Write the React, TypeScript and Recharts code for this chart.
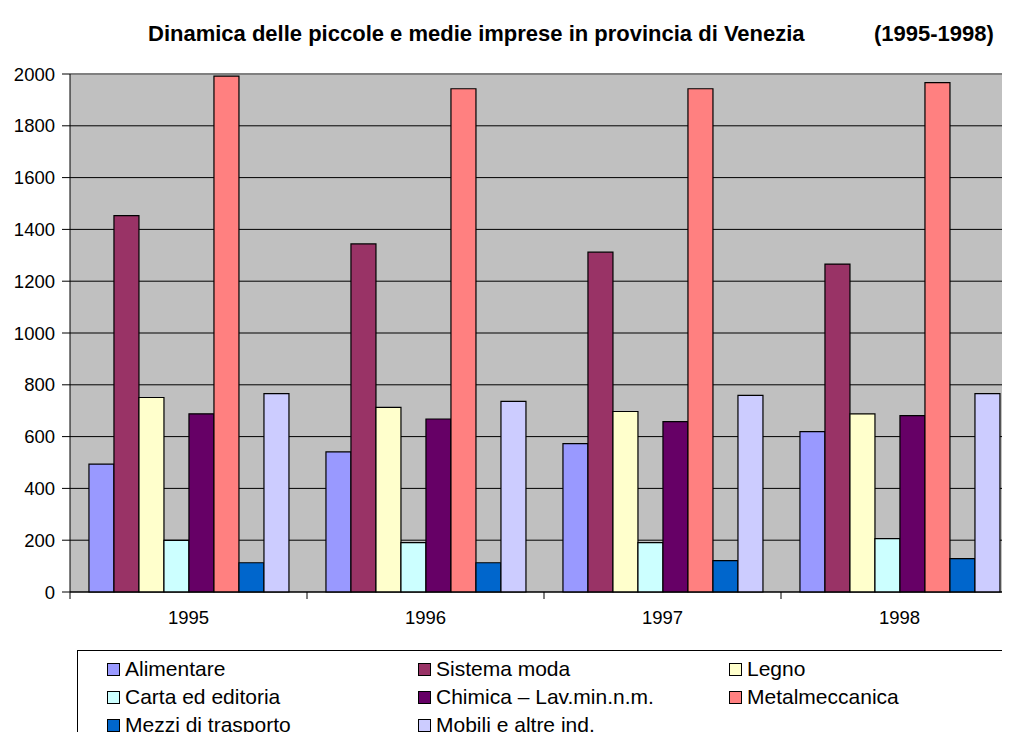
import React from "react";
import {
  BarChart,
  Bar,
  XAxis,
  YAxis,
  CartesianGrid,
  ReferenceLine,
} from "recharts";

const years = ["1995", "1996", "1997", "1998"];
const alimentare = [494, 541, 573, 619];
const sistemaModa = [1453, 1344, 1312, 1266];
const legno = [751, 713, 697, 688];
const carta = [199, 191, 191, 206];
const chimica = [688, 668, 658, 681];
const metalmeccanica = [1992, 1943, 1943, 1967];
const mezzi = [113, 113, 121, 129];
const mobili = [766, 736, 759, 766];
const yTicks = [0, 200, 400, 600, 800, 1000, 1200, 1400, 1600, 1800, 2000];

const series = [
  { key: "alimentare", name: "Alimentare", color: "#9999FF", values: alimentare },
  { key: "sistemaModa", name: "Sistema moda", color: "#993366", values: sistemaModa },
  { key: "legno", name: "Legno", color: "#FFFFCC", values: legno },
  { key: "carta", name: "Carta ed editoria", color: "#CCFFFF", values: carta },
  { key: "chimica", name: "Chimica – Lav.min.n.m.", color: "#660066", values: chimica },
  { key: "metalmeccanica", name: "Metalmeccanica", color: "#FF8080", values: metalmeccanica },
  { key: "mezzi", name: "Mezzi di trasporto", color: "#0066CC", values: mezzi },
  { key: "mobili", name: "Mobili e altre ind.", color: "#CCCCFF", values: mobili },
];

const data = years.map((year, i) => {
  const row: Record<string, string | number> = { year };
  series.forEach((s) => {
    row[s.key] = s.values[i];
  });
  return row;
});

const FONT = "'Liberation Sans', Arial, sans-serif";

// label in the middle of the band, tick mark on the left edge of the band
function YearTick(props: any) {
  const { x, y, payload } = props;
  const half = payload && payload.offset ? payload.offset : 118.5;
  return (
    <g>
      <line x1={x - half} y1={y} x2={x - half} y2={y + 7} stroke="#000" />
      <text
        x={x}
        y={y + 32}
        textAnchor="middle"
        fontSize={18.5}
        fontFamily={FONT}
        fill="#000"
      >
        {payload.value}
      </text>
    </g>
  );
}

export default function App() {
  return (
    <div
      style={{
        position: "relative",
        width: 1010,
        height: 740,
        overflow: "hidden",
        margin: -8,
        background: "#fff",
        fontFamily: FONT,
      }}
    >
      <div
        style={{
          position: "absolute",
          top: 21,
          left: 148,
          fontSize: 22,
          fontWeight: "bold",
          whiteSpace: "pre",
        }}
      >
        Dinamica delle piccole e medie imprese in provincia di Venezia
      </div>
      <div
        style={{
          position: "absolute",
          top: 21,
          left: 874,
          fontSize: 22,
          fontWeight: "bold",
        }}
      >
        (1995-1998)
      </div>

      <div style={{ position: "absolute", left: 0, top: 0 }}>
        <BarChart
          width={1030}
          height={740}
          data={data}
          margin={{ top: 74, right: 12, left: 0, bottom: 108 }}
          barCategoryGap="8%"
          barGap={0}
        >
          <CartesianGrid vertical={false} stroke="#000" fill="#C0C0C0" />
          <XAxis
            dataKey="year"
            height={40}
            axisLine={{ stroke: "#000" }}
            tickLine={false}
            tickSize={0}
            tickMargin={0}
            tick={<YearTick />}
            interval={0}
          />
          <YAxis
            width={70}
            domain={[0, 2000]}
            ticks={yTicks}
            interval={0}
            axisLine={{ stroke: "#000" }}
            tickLine={{ stroke: "#000" }}
            tickSize={8}
            tickMargin={7}
            tick={{ fill: "#000", fontSize: 18.5, fontFamily: FONT }}
          />
          {series.map((s) => (
            <Bar
              key={s.key}
              dataKey={s.key}
              name={s.name}
              fill={s.color}
              stroke="#000"
              strokeWidth={1.2}
              isAnimationActive={false}
            />
          ))}
          <ReferenceLine y={2000} stroke="#808080" strokeWidth={2} />
        </BarChart>
      </div>

      <div
        style={{
          position: "absolute",
          left: 77,
          top: 650,
          width: 927,
          height: 110,
          border: "1px solid #000",
          background: "#fff",
          paddingTop: 4,
          boxSizing: "content-box",
        }}
      >
        <div
          style={{
            display: "grid",
            gridTemplateColumns: "311px 311px 305px",
            paddingLeft: 29,
          }}
        >
          {series.map((s) => (
            <div
              key={s.key}
              style={{
                display: "flex",
                alignItems: "center",
                height: 28,
                fontSize: 21,
                whiteSpace: "nowrap",
              }}
            >
              <span
                style={{
                  display: "inline-block",
                  width: 11,
                  height: 11,
                  border: "1px solid #000",
                  background: s.color,
                  marginRight: 5,
                }}
              />
              {s.name}
            </div>
          ))}
        </div>
      </div>
    </div>
  );
}
